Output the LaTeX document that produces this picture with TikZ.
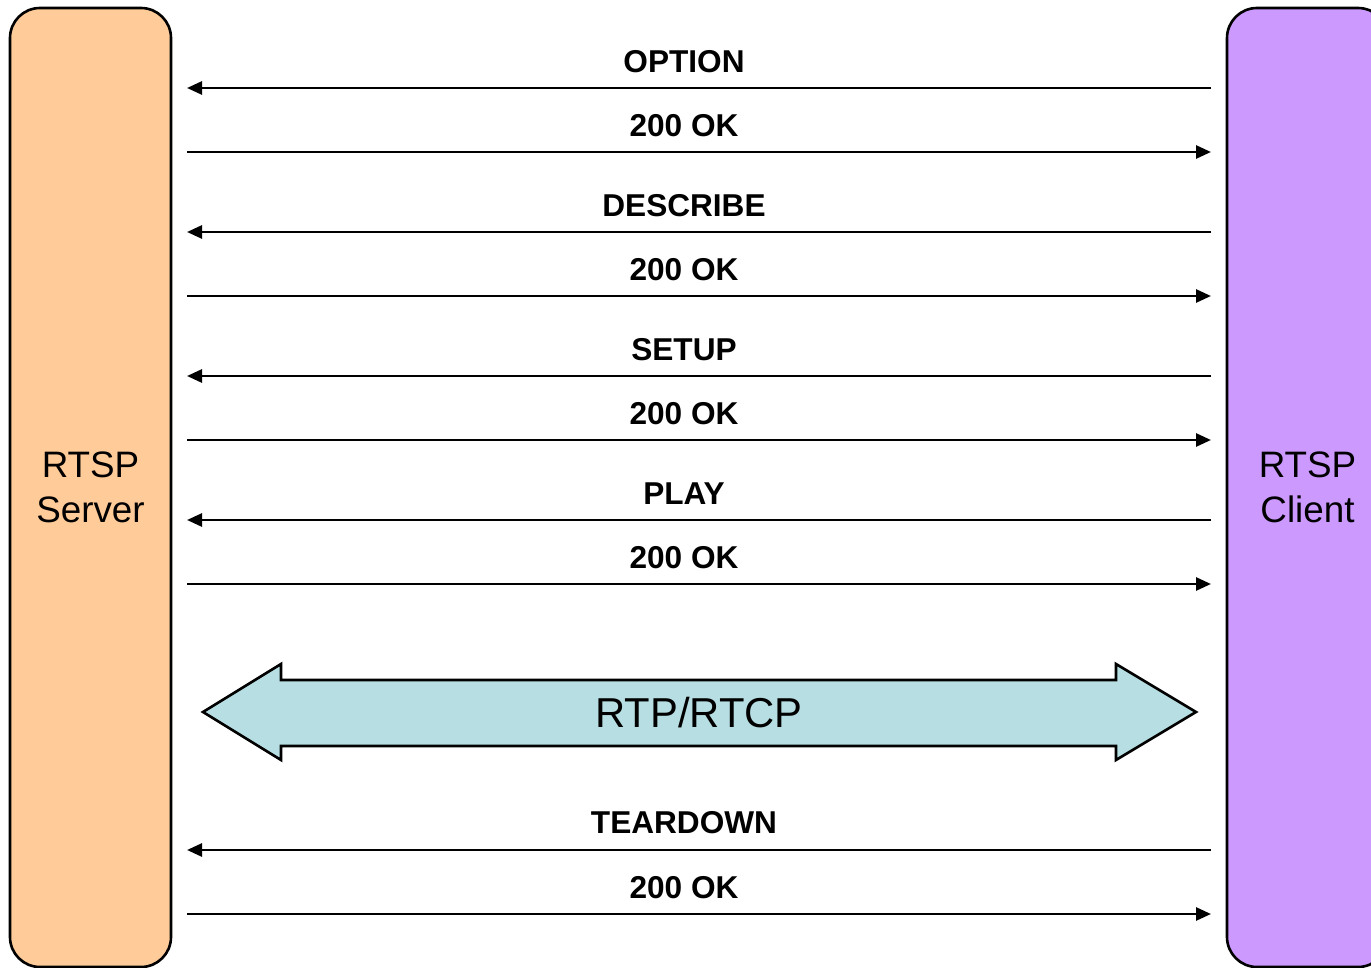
\documentclass[tikz,border=0pt]{standalone}
\usepackage{fontspec}
\setmainfont{Liberation Sans}
\usetikzlibrary{arrows.meta}
\definecolor{serverfill}{HTML}{FFCC99}
\definecolor{clientfill}{HTML}{CC99FF}
\definecolor{rtpfill}{HTML}{B7DFE3}
\tikzset{
  party/.style={draw=black, line width=1.3pt, rounded corners=15pt, minimum width=80.5pt, minimum height=479.5pt, inner sep=0pt, align=center, font=\fontsize{18.4}{22.5}\selectfont},
  msg/.style={line width=1.35pt, -{Triangle[length=7.5pt,width=6.5pt]}},
  msglabel/.style={font=\bfseries\fontsize{15.8}{19}\selectfont, anchor=base},
}
\begin{document}
\begin{tikzpicture}[x=0.5pt,y=-0.5pt]
\useasboundingbox (0,0) rectangle (1371,968);
\clip (0,0) rectangle (1371,968);
\node[party, fill=serverfill] (server) at (90.5,487.5) {RTSP\\Server};
\node[party, fill=clientfill] (client) at (1307.5,487.5) {RTSP\\Client};
% connector endpoints
\foreach \n/\y in {a/88,b/152,c/232,d/296,e/376,f/440,g/520,h/584,i/850,j/914}{
  \coordinate (L\n) at (187,\y);
  \coordinate (R\n) at (1211,\y);
}
\draw[msg] (Ra) -- (La);
\draw[msg] (Lb) -- (Rb);
\draw[msg] (Rc) -- (Lc);
\draw[msg] (Ld) -- (Rd);
\draw[msg] (Re) -- (Le);
\draw[msg] (Lf) -- (Rf);
\draw[msg] (Rg) -- (Lg);
\draw[msg] (Lh) -- (Rh);
\draw[msg] (Ri) -- (Li);
\draw[msg] (Lj) -- (Rj);
\node[msglabel] (la) at (684,72.5) {OPTION};
\node[msglabel] (lb) at (684,136.5) {200 OK};
\node[msglabel] (lc) at (684,216.5) {DESCRIBE};
\node[msglabel] (ld) at (684,280.5) {200 OK};
\node[msglabel] (le) at (684,360.5) {SETUP};
\node[msglabel] (lf) at (684,424.5) {200 OK};
\node[msglabel] (lg) at (684,504.5) {PLAY};
\node[msglabel] (lh) at (684,568.5) {200 OK};
\node[msglabel] (li) at (684,833.5) {TEARDOWN};
\node[msglabel] (lj) at (684,898.5) {200 OK};
% RTP/RTCP double arrow
\draw[line width=1.3pt, fill=rtpfill, line join=miter]
  (203,712) -- (281,664) -- (281,680) -- (1116,680) -- (1116,664) -- (1196,712)
  -- (1116,760) -- (1116,746) -- (281,746) -- (281,760) -- cycle;
\node[font=\fontsize{20.9}{25}\selectfont] (rtp) at (699,713) {RTP/RTCP};
\end{tikzpicture}
\end{document}
